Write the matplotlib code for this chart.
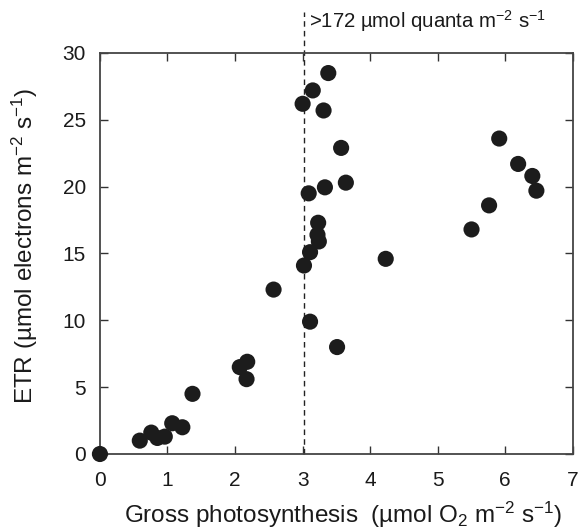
import matplotlib
matplotlib.use('Agg')
import matplotlib.pyplot as plt

plt.rcParams['font.family'] = ['Liberation Sans', 'DejaVu Sans']
plt.rcParams['mathtext.fontset'] = 'custom'
plt.rcParams['mathtext.rm'] = 'Liberation Sans'
plt.rcParams['mathtext.it'] = 'Liberation Sans:italic'
plt.rcParams['mathtext.default'] = 'rm'

# Gross photosynthesis (umol O2 m-2 s-1) vs ETR (umol electrons m-2 s-1)
gross_ps = [0.0, 0.59, 0.76, 0.85, 0.96, 1.07, 1.22, 1.37, 2.07, 2.18, 2.17,
            2.57, 3.00, 3.15, 3.38, 3.31, 3.57, 3.09, 3.33, 3.64, 3.23, 3.22,
            3.24, 3.11, 3.02, 4.23, 3.11, 3.51, 5.91, 6.19, 6.40, 6.46, 5.76,
            5.50]
etr = [0.0, 1.0, 1.6, 1.2, 1.3, 2.3, 2.0, 4.5, 6.5, 6.9, 5.6,
       12.3, 26.2, 27.2, 28.5, 25.7, 22.9, 19.5, 19.95, 20.3, 17.3, 16.4,
       15.9, 15.1, 14.1, 14.6, 9.9, 8.0, 23.6, 21.7, 20.8, 19.7, 18.6,
       16.8]

threshold_x = 3.02
x_ticks = [0, 1, 2, 3, 4, 5, 6, 7]
y_ticks = [0, 5, 10, 15, 20, 25, 30]

fig = plt.figure(figsize=(5.81, 5.30), dpi=100)
ax = fig.add_axes([0.172, 0.1434, 0.814, 0.7566])

ax.axvline(threshold_x, ymin=0, ymax=1.102, color='#222222', lw=1.0,
           ls=(0, (4, 3)), clip_on=False, zorder=1)
ax.scatter(gross_ps, etr, s=135, color='#1c1c1c', edgecolors='none',
           clip_on=False, zorder=3)

ax.text(3.093, 1.062, r'>172 µmol quanta m$^{-2}$ s$^{-1}$',
        transform=ax.get_xaxis_transform(), fontsize=14.7,
        va='baseline', ha='left', color='#1a1a1a')

ax.set_xlim(0, 7)
ax.set_ylim(0, 30)
ax.set_xticks(x_ticks)
ax.set_yticks(y_ticks)
ax.tick_params(direction='in', length=6, width=1.0, top=True, right=True,
               labelsize=15, colors='#333333', labelcolor='#1a1a1a', pad=10)
ax.tick_params(axis='x', pad=12)
for sp in ax.spines.values():
    sp.set_color('#444444')
    sp.set_linewidth(1.3)

ax.set_xlabel(r'Gross photosynthesis  (µmol O$_2$ m$^{-2}$ s$^{-1}$)',
              fontsize=17.5, color='#1a1a1a')
ax.set_ylabel(r'ETR (µmol electrons m$^{-2}$ s$^{-1}$)', fontsize=17.5,
              color='#1a1a1a')
ax.xaxis.label.set_va('baseline')
ax.yaxis.label.set_va('baseline')
ax.xaxis.set_label_coords(0.514, -0.172)
ax.yaxis.set_label_coords(-0.1416, 0.519)

fig.savefig('out.png', dpi=100)
